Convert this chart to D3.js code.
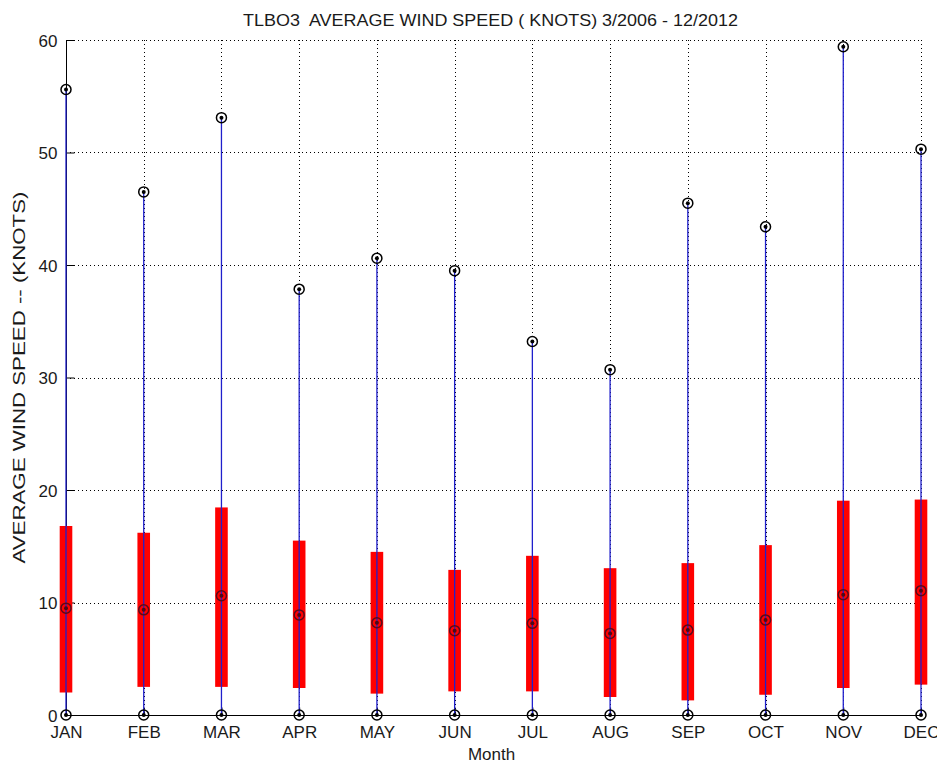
<!DOCTYPE html>
<html>
<head>
<meta charset="utf-8">
<script src="https://cdn.jsdelivr.net/npm/d3@7/dist/d3.min.js"></script>
<style>
  html, body { margin: 0; padding: 0; background: #ffffff; }
  svg { display: block; }
  text { font-family: "Liberation Sans", Arial, sans-serif; fill: #1a1a1a; }
</style>
</head>
<body>
<svg id="chart" width="937" height="763"></svg>
<script>
// Monthly wind speed summary (knots)
const months  = ["JAN","FEB","MAR","APR","MAY","JUN","JUL","AUG","SEP","OCT","NOV","DEC"];
const minVals = [0, 0, 0, 0, 0, 0, 0, 0, 0, 0, 0, 0];
const q1Vals  = [2.0, 2.5, 2.5, 2.4, 1.9, 2.1, 2.1, 1.6, 1.3, 1.8, 2.4, 2.7];
const medVals = [9.5, 9.35, 10.6, 8.9, 8.2, 7.5, 8.15, 7.25, 7.55, 8.45, 10.7, 11.05];
const q3Vals  = [16.8, 16.2, 18.45, 15.5, 14.5, 12.9, 14.15, 13.05, 13.5, 15.1, 19.05, 19.15];
const maxVals = [55.6, 46.5, 53.1, 37.85, 40.6, 39.5, 33.2, 30.7, 45.5, 43.4, 59.4, 50.3];
const yTicks  = [0, 10, 20, 30, 40, 50, 60];

const titleText = "TLBO3  AVERAGE WIND SPEED ( KNOTS) 3/2006 - 12/2012";
const xLabel = "Month";
const yLabel = "AVERAGE WIND SPEED -- (KNOTS)";

const svg = d3.select("#chart");
const plotLeft = 66, plotRight = 921, plotTop = 40, plotBottom = 715;
const fontFamily = "Liberation Sans, Arial, sans-serif";

const x = d3.scaleLinear().domain([1, 12]).range([plotLeft, plotRight]);
const y = d3.scaleLinear().domain([0, 60]).range([plotBottom, plotTop]);

const rows = months.map((m, i) => ({
  m, i: i + 1,
  min: minVals[i], q1: q1Vals[i], med: medVals[i], q3: q3Vals[i], max: maxVals[i]
}));

// dotted grid
const grid = svg.append("g").attr("stroke", "#000").attr("stroke-width", 1)
  .attr("stroke-dasharray", "1,3").attr("shape-rendering", "crispEdges");
grid.selectAll("line.h").data(yTicks.filter(t => t > 0)).join("line")
  .attr("class", "h")
  .attr("x1", plotLeft).attr("x2", plotRight)
  .attr("y1", d => Math.round(y(d)) + 0.5).attr("y2", d => Math.round(y(d)) + 0.5);
grid.selectAll("line.v").data(d3.range(2, 13)).join("line")
  .attr("class", "v")
  .attr("x1", d => Math.round(x(d)) + 0.5).attr("x2", d => Math.round(x(d)) + 0.5)
  .attr("y1", plotTop).attr("y2", plotBottom);

// axes (ticks pointing inward)
const yAxis = d3.axisLeft(y).tickValues(yTicks).tickSize(-8).tickPadding(9)
  .tickFormat(d3.format("d"));
const gy = svg.append("g").attr("transform", `translate(${plotLeft + 0.5},0)`).call(yAxis);
gy.select(".domain").attr("d", `M0,${plotTop}V${plotBottom}`).attr("stroke", "#000");
gy.selectAll(".tick line").attr("stroke", "#000");
gy.selectAll(".tick text").attr("font-size", 17).attr("font-family", fontFamily)
  .attr("fill", "#1a1a1a").attr("dy", "0.36em");

const xAxis = d3.axisBottom(x).tickValues(d3.range(1, 13)).tickSize(-8).tickPadding(10)
  .tickFormat(d => months[d - 1]);
const gx = svg.append("g").attr("transform", `translate(0,${plotBottom + 0.5})`).call(xAxis);
gx.select(".domain").attr("d", `M${plotLeft},0H${plotRight}`).attr("stroke", "#000");
gx.selectAll(".tick line").attr("stroke", "#000");
gx.selectAll(".tick text").attr("font-size", 17).attr("font-family", fontFamily)
  .attr("fill", "#1a1a1a");

// boxes (interquartile range)
svg.append("g").selectAll("rect").data(rows).join("rect")
  .attr("x", d => x(d.i) - 6.3).attr("width", 12.6)
  .attr("y", d => y(d.q3)).attr("height", d => y(d.q1) - y(d.q3))
  .attr("fill", "#ff0000");

// whiskers from min to max
svg.append("g").selectAll("line").data(rows).join("line")
  .attr("x1", d => x(d.i)).attr("x2", d => x(d.i))
  .attr("y1", d => y(d.min)).attr("y2", d => y(d.max))
  .attr("stroke", "#2020cc").attr("stroke-width", 1.3);

// circle-dot markers at min, median and max
const markers = [];
rows.forEach(d => {
  markers.push({ i: d.i, v: d.min, kind: "end" });
  markers.push({ i: d.i, v: d.med, kind: "med" });
  markers.push({ i: d.i, v: d.max, kind: "end" });
});
const mg = svg.append("g").selectAll("g").data(markers).join("g")
  .attr("transform", d => `translate(${x(d.i)},${y(d.v)})`);
mg.append("circle").attr("r", 5)
  .attr("fill", "none")
  .attr("stroke", d => d.kind === "med" ? "#5a0a1a" : "#000")
  .attr("stroke-width", 1.5);
mg.append("circle").attr("r", 2)
  .attr("fill", d => d.kind === "med" ? "#4a0a1a" : "#000");

// title and axis labels
svg.append("text").attr("x", (plotLeft + plotRight) / 2 - 3).attr("y", 26)
  .attr("text-anchor", "middle").attr("font-size", 17)
  .style("white-space", "pre")
  .attr("textLength", 495).attr("lengthAdjust", "spacingAndGlyphs")
  .text(titleText);

svg.append("text").attr("x", (plotLeft + plotRight) / 2 - 2).attr("y", 760)
  .attr("text-anchor", "middle").attr("font-size", 17)
  .text(xLabel);

svg.append("text")
  .attr("transform", `translate(25,${(plotTop + plotBottom) / 2}) rotate(-90)`)
  .attr("text-anchor", "middle").attr("font-size", 16.5)
  .attr("textLength", 372).attr("lengthAdjust", "spacingAndGlyphs")
  .text(yLabel);
</script>
</body>
</html>
